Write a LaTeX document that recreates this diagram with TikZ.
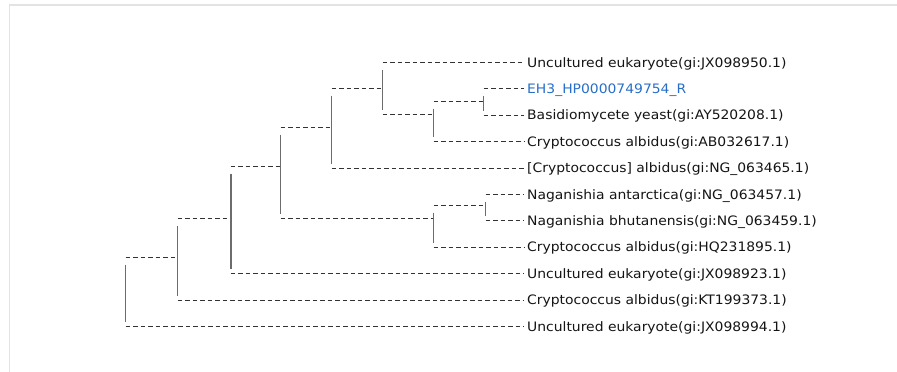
\documentclass[tikz,border=0pt]{standalone}
\usepackage{fontspec}
\setmainfont{DejaVu Sans}[FakeStretch=1.07]
\usetikzlibrary{positioning}
\definecolor{treegray}{HTML}{333333}
\definecolor{querybl}{RGB}{40,110,200}
\tikzset{
    leaf/.style={
        anchor=west,
        inner xsep=3pt,
        inner ysep=0pt,
        text height=9pt,
        text depth=0pt,
        font=\fontsize{13}{15}\selectfont,
        text=black!92
    },
    under/.style={below=of #1.south west, anchor=north west},
    branch/.style={draw=treegray, line width=1pt, dash pattern=on 4.5pt off 3pt},
    stem/.style={draw=gray!85!black, line width=1pt},
    frame/.style={draw=gray!22, line width=1.5pt}
}

\begin{document}
\begin{tikzpicture}[x=1pt, y=-1pt, node distance=17pt]
        \useasboundingbox (0,0) rectangle (897,372);
        \draw[frame] (897,5) -- (9.5,5) -- (9.5,372);

        \node[leaf] (jx950) at (524,62.5) {Uncultured eukaryote(gi:JX098950.1)};
        \node[leaf, under=jx950, text=querybl] (eh3) {EH3\_HP0000749754\_R};
        \node[leaf, under=eh3] (ay208) {Basidiomycete yeast(gi:AY520208.1)};
        \node[leaf, under=ay208] (ab617) {Cryptococcus albidus(gi:AB032617.1)};
        \node[leaf, under=ab617] (ng465) {[Cryptococcus] albidus(gi:NG\_063465.1)};
        \node[leaf, under=ng465] (ng457) {Naganishia antarctica(gi:NG\_063457.1)};
        \node[leaf, under=ng457] (ng459) {Naganishia bhutanensis(gi:NG\_063459.1)};
        \node[leaf, under=ng459] (hq895) {Cryptococcus albidus(gi:HQ231895.1)};
        \node[leaf, under=hq895] (jx923) {Uncultured eukaryote(gi:JX098923.1)};
        \node[leaf, under=jx923] (kt373) {Cryptococcus albidus(gi:KT199373.1)};
        \node[leaf, under=kt373] (jx994) {Uncultured eukaryote(gi:JX098994.1)};

        % internal nodes
        \coordinate (nroot) at (125.5,290.5);
        \coordinate (na) at (177.5,257.5);
        \coordinate (nb) at (230.5,218.5);
        \coordinate (nc) at (280.5,166.5);
        \coordinate (nd) at (331.5,127.5);
        \coordinate (nf) at (382.5,88.5);
        \coordinate (ng) at (433.5,114.5);
        \coordinate (nh) at (483.5,101.5);
        \coordinate (ne) at (433.5,218.5);
        \coordinate (ni) at (485.5,205.5);

        \draw[branch] (nroot |- na) -- (na);
        \draw[branch] (nroot |- jx994.west) -- (jx994.west);
        \draw[branch] (na |- nb) -- (nb);
        \draw[branch] (na |- kt373.west) -- (kt373.west);
        \draw[branch] (nb |- nc) -- (nc);
        \draw[branch] (nb |- jx923.west) -- (jx923.west);
        \draw[branch] (nc |- nd) -- (nd);
        \draw[branch] (nc |- ne) -- (ne);
        \draw[branch] (nd |- nf) -- (nf);
        \draw[branch] (nd |- ng465.west) -- (ng465.west);
        \draw[branch] (nf |- jx950.west) -- (jx950.west);
        \draw[branch] (nf |- ng) -- (ng);
        \draw[branch] (ng |- nh) -- (nh);
        \draw[branch] (ng |- ab617.west) -- (ab617.west);
        \draw[branch] (nh |- eh3.west) -- (eh3.west);
        \draw[branch] (nh |- ay208.west) -- (ay208.west);
        \draw[branch] (ne |- ni) -- (ni);
        \draw[branch] (ne |- hq895.west) -- (hq895.west);
        \draw[branch] (ni |- ng457.west) -- (ng457.west);
        \draw[branch] (ni |- ng459.west) -- (ng459.west);

        \draw[stem] ([yshift=-7pt]nroot |- na) -- ([yshift=4.5pt]nroot |- jx994.west);
        \draw[stem] ([yshift=-7pt]na |- nb) -- ([yshift=4.5pt]na |- kt373.west);
        \draw[stem, line width=2pt] ([yshift=-7pt]nb |- nc) -- ([yshift=4.5pt]nb |- jx923.west);
        \draw[stem] ([yshift=-7pt]nc |- nd) -- ([yshift=4.5pt]nc |- ne);
        \draw[stem] ([yshift=-7pt]nd |- nf) -- ([yshift=4.5pt]nd |- ng465.west);
        \draw[stem] ([yshift=-7pt]nf |- jx950.west) -- ([yshift=4.5pt]nf |- ng);
        \draw[stem] ([yshift=-7pt]ng |- nh) -- ([yshift=4.5pt]ng |- ab617.west);
        \draw[stem] ([yshift=-7pt]nh |- eh3.west) -- ([yshift=4.5pt]nh |- ay208.west);
        \draw[stem] ([yshift=-7pt]ne |- ni) -- ([yshift=4.5pt]ne |- hq895.west);
        \draw[stem] ([yshift=-7pt]ni |- ng457.west) -- ([yshift=4.5pt]ni |- ng459.west);
    \end{tikzpicture}
\end{document}
